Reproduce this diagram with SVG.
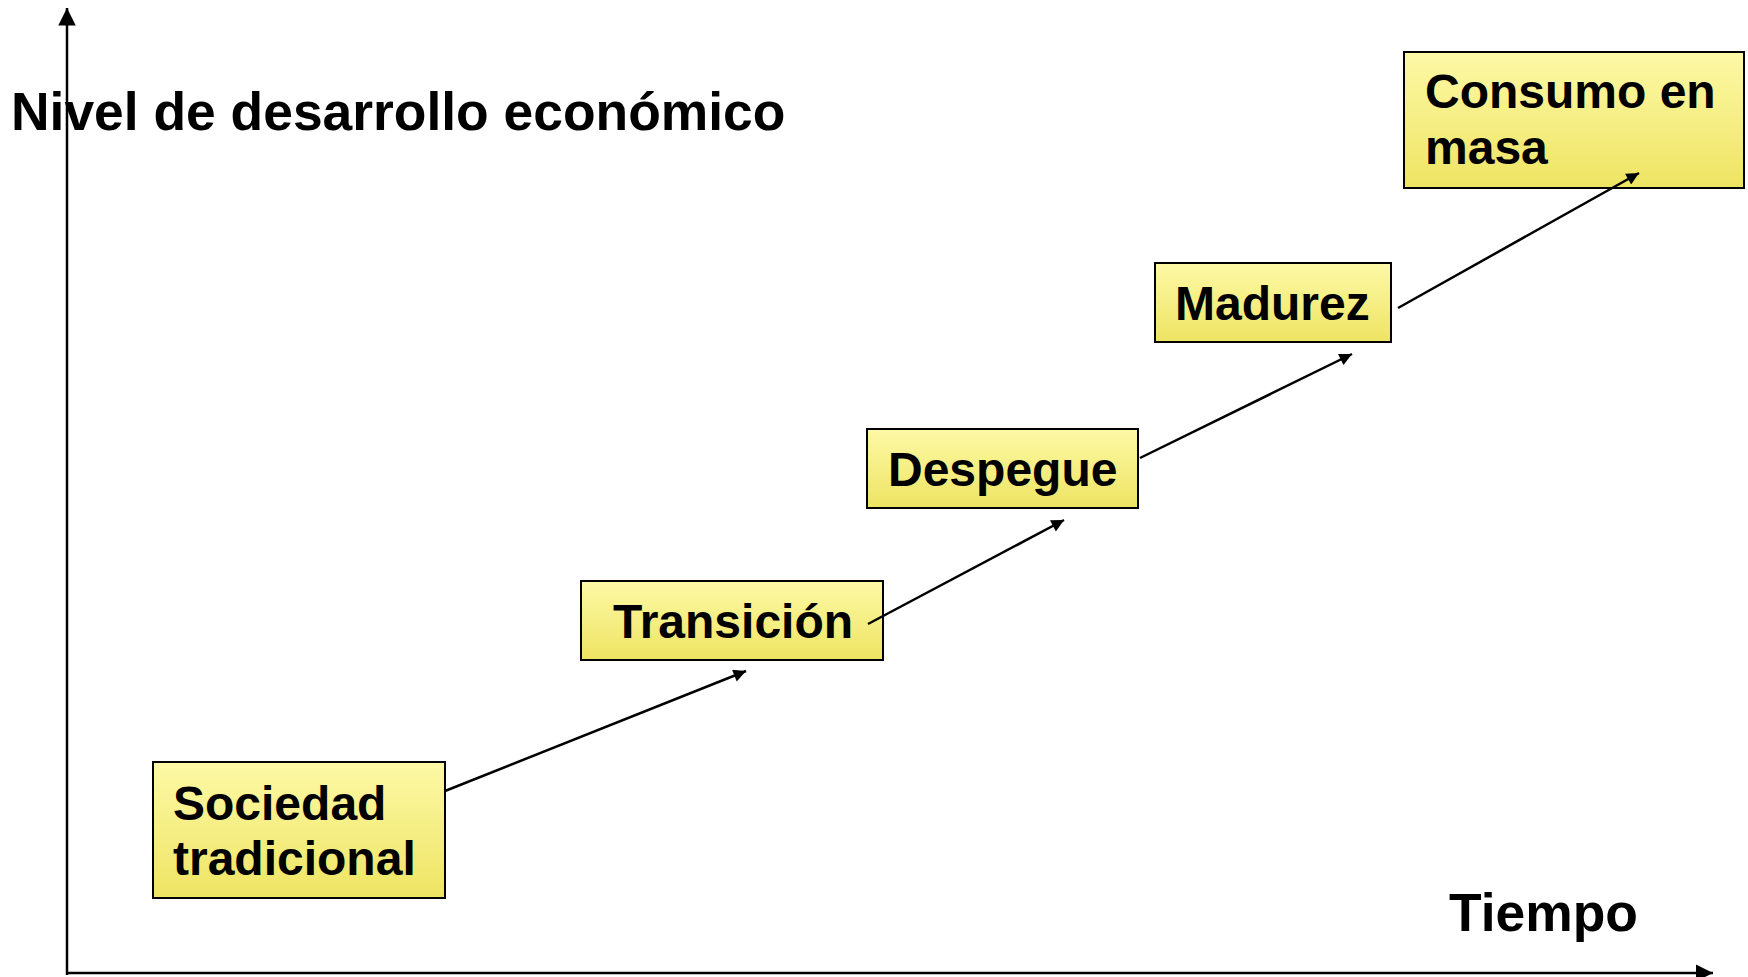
<svg xmlns="http://www.w3.org/2000/svg" width="1748" height="977" viewBox="0 0 1748 977">
<defs>
<linearGradient id="yg" x1="0" y1="0" x2="0" y2="1">
<stop offset="0" stop-color="#FDF9A6"/>
<stop offset="1" stop-color="#EEE463"/>
</linearGradient>
<marker id="ah" viewBox="0 0 10 10" refX="10" refY="5" markerWidth="6" markerHeight="5" markerUnits="strokeWidth" orient="auto">
<path d="M0,0 L10,5 L0,10 z" fill="#000"/>
</marker>
<marker id="axh" viewBox="0 0 10 10" refX="10" refY="5" markerWidth="7" markerHeight="7" markerUnits="strokeWidth" orient="auto">
<path d="M0,0 L10,5 L0,10 z" fill="#000"/>
</marker>
</defs>
<style>
.box{fill:url(#yg);stroke:#000;stroke-width:2}
.t{font-family:"Liberation Sans",Arial,sans-serif;font-weight:bold;font-size:48px;fill:#000}
.big{font-family:"Liberation Sans",Arial,sans-serif;font-weight:bold;font-size:53.4px;fill:#000}
.c{stroke:#000;stroke-width:2.5;fill:none}
</style>
<rect width="1748" height="977" fill="#fff"/>
<g id="axes">
<line class="c" x1="67" y1="975" x2="67" y2="8" marker-end="url(#axh)"/>
<line class="c" x1="67" y1="973" x2="1713" y2="973" marker-end="url(#axh)"/>
</g>
<g id="ylabel"><text class="big" x="11" y="130">Nivel de desarrollo económico</text></g>
<g id="xlabel"><text class="big" x="1449" y="931">Tiempo</text></g>
<g id="n1"><rect class="box" x="153" y="762" width="292" height="136"/><text class="t" x="173" y="820">Sociedad</text><text class="t" x="173" y="875">tradicional</text></g>
<g id="n2"><rect class="box" x="581" y="581" width="302" height="79"/><text class="t" x="613" y="638">Transición</text></g>
<g id="n3"><rect class="box" x="867" y="429" width="271" height="79"/><text class="t" x="888" y="486">Despegue</text></g>
<g id="n4"><rect class="box" x="1155" y="263" width="236" height="79"/><text class="t" x="1175" y="320">Madurez</text></g>
<g id="n5"><rect class="box" x="1404" y="52" width="340" height="136"/><text class="t" x="1425" y="108">Consumo en</text><text class="t" x="1425" y="164">masa</text></g>
<g id="connectors">
<line class="c" x1="445" y1="791" x2="746" y2="671" marker-end="url(#ah)"/>
<line class="c" x1="868" y1="624" x2="1064" y2="520" marker-end="url(#ah)"/>
<line class="c" x1="1140" y1="458" x2="1352" y2="354" marker-end="url(#ah)"/>
<line class="c" x1="1398" y1="308" x2="1639" y2="173" marker-end="url(#ah)"/>
</g>
</svg>
